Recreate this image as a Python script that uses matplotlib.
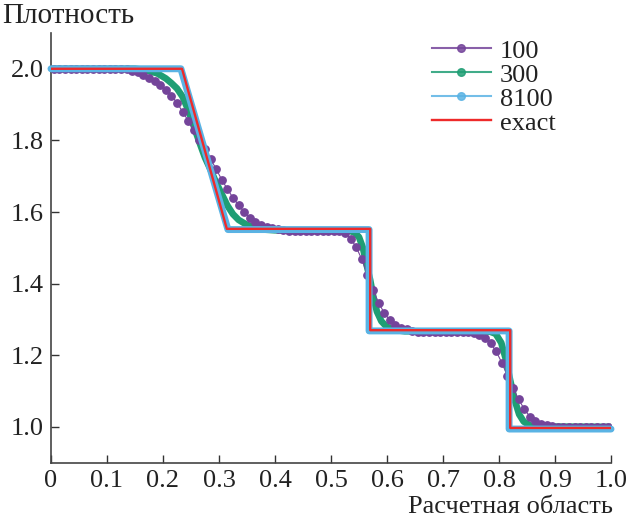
import numpy as np
import matplotlib
matplotlib.use("Agg")
import matplotlib.pyplot as plt
from matplotlib.lines import Line2D

plt.rcParams['font.family'] = ['Liberation Serif', 'DejaVu Serif']

# ---- data ----
labels = ["100", "300", "8100", "exact"]

x100 = [0.005 + 0.01 * i for i in range(100)]
rho100 = ([2.000] * 13 +
          [1.998, 1.995, 1.990, 1.983, 1.975, 1.965, 1.955, 1.941, 1.925, 1.905,
           1.880, 1.855, 1.828, 1.800, 1.775, 1.748, 1.720, 1.690, 1.664, 1.640,
           1.619, 1.600, 1.584, 1.573, 1.565, 1.559, 1.555, 1.552, 1.550] +
          [1.548] * 9 +
          [1.546, 1.540, 1.526, 1.502, 1.468, 1.425, 1.382, 1.347, 1.318, 1.298,
           1.285, 1.277, 1.272, 1.269] +
          [1.266] * 10 +
          [1.262, 1.257, 1.247, 1.233, 1.211, 1.179, 1.143, 1.108, 1.077, 1.050,
           1.029, 1.016, 1.008, 1.004, 1.002] +
          [1.000] * 10)

x300 = [0.0, 0.15, 0.17, 0.19, 0.205, 0.215, 0.225, 0.235, 0.245, 0.255, 0.265,
        0.275, 0.285, 0.295, 0.305, 0.315, 0.325, 0.335, 0.35, 0.365, 0.38, 0.40,
        0.532, 0.542, 0.55, 0.557, 0.564, 0.570, 0.576, 0.582, 0.590, 0.599, 0.612,
        0.632, 0.784, 0.794, 0.804, 0.812, 0.820, 0.828, 0.836, 0.844, 0.854, 0.864, 1.0]
rho300 = [2.0, 2.0, 1.996, 1.987, 1.973, 1.960, 1.945, 1.922, 1.885, 1.840, 1.795,
          1.752, 1.718, 1.682, 1.650, 1.618, 1.594, 1.578, 1.564, 1.556, 1.551, 1.549,
          1.548, 1.543, 1.530, 1.500, 1.450, 1.410, 1.360, 1.322, 1.295, 1.280, 1.271,
          1.267, 1.266, 1.260, 1.235, 1.190, 1.130, 1.075, 1.035, 1.015, 1.005, 1.001, 1.0]

x8100 = [0.0, 0.232, 0.316, 0.568, 0.568, 0.818, 0.818, 1.0]
rho8100 = [2.0, 2.0, 1.551, 1.551, 1.268, 1.268, 0.994, 0.994]

xexact = [0.0, 0.234, 0.314, 0.570, 0.570, 0.820, 0.820, 1.0]
rhoexact = [2.0, 2.0, 1.553, 1.553, 1.270, 1.270, 0.997, 0.997]

xticks = [0, 0.1, 0.2, 0.3, 0.4, 0.5, 0.6, 0.7, 0.8, 0.9, 1.0]
xticklabels = ["0", "0.1", "0.2", "0.3", "0.4", "0.5", "0.6", "0.7", "0.8", "0.9", "1.0"]
yticks = [1.0, 1.2, 1.4, 1.6, 1.8, 2.0]
yticklabels = ["1.0", "1.2", "1.4", "1.6", "1.8", "2.0"]

c_purple = "#74449a"
c_green = "#1f9e74"
c_blue = "#5ab3e4"
c_red = "#ee2a2a"

FS = 19

fig = plt.figure(figsize=(6.27, 5.23), dpi=100)
ax = fig.add_axes([0.0813, 0.1153, 0.9745 - 0.0813, 0.937 - 0.1153])

ax.plot(x300, rho300, color=c_green, lw=4.8, solid_capstyle='round',
        solid_joinstyle='round', zorder=2)
ax.plot(x100, rho100, color=c_purple, lw=0.8, marker='o', ms=5.3,
        mec=c_purple, mfc=c_purple, zorder=3)
ax.plot(x8100, rho8100, color=c_blue, lw=5.0, solid_capstyle='round',
        solid_joinstyle='round', zorder=4, clip_on=False)
ax.plot(xexact, rhoexact, color=c_red, lw=1.7, zorder=5)

ax.set_xlim(0, 1.0)
ax.set_ylim(0.9, 2.1)
ax.set_xticks(xticks)
ax.set_xticklabels(xticklabels)
ax.set_yticks(yticks)
ax.set_yticklabels(yticklabels)
ax.tick_params(direction='in', length=6, width=1.0, colors='#333333',
               labelsize=FS, labelcolor='#222222')
ax.tick_params(axis='x', pad=5.5)
ax.tick_params(axis='y', pad=5.0)
for s in ['top', 'right']:
    ax.spines[s].set_visible(False)
for s in ['left', 'bottom']:
    ax.spines[s].set_color('#444444')
    ax.spines[s].set_linewidth(1.2)

handles = [
    Line2D([], [], color=c_purple, lw=1.5, marker='o', ms=5.5, alpha=0.85),
    Line2D([], [], color=c_green, lw=1.5, marker='o', ms=5.5, alpha=0.85),
    Line2D([], [], color=c_blue, lw=1.5, marker='o', ms=5.5, alpha=0.85),
    Line2D([], [], color=c_red, lw=1.7),
]
leg = fig.legend(handles, labels, loc='upper left', bbox_to_anchor=(0.689, 0.925),
                 frameon=False, fontsize=FS, handlelength=2.22, handletextpad=0.34,
                 labelspacing=0.02, borderpad=0, borderaxespad=0)
for t in leg.get_texts():
    t.set_color('#222222')

fig.text(0.003, 0.969, "Плотность", fontsize=21, ha='left', va='center', color='#222222')
fig.text(0.977, 0.031, "Расчетная область", fontsize=FS, ha='right', va='center', color='#222222')

fig.savefig("out.png", dpi=100)
